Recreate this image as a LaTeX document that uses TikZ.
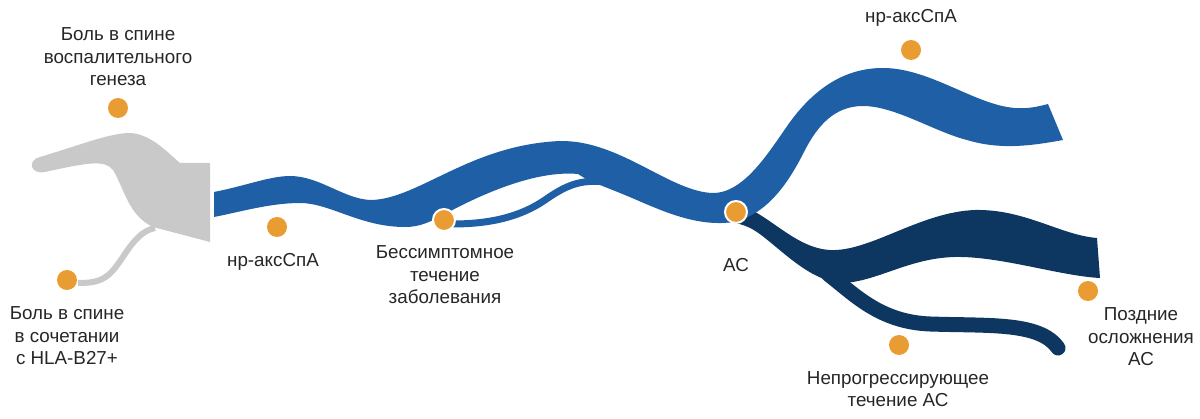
\documentclass[tikz,border=0pt]{standalone}
\usepackage{fontspec}
\setmainfont{Liberation Sans}
\definecolor{bandblue}{HTML}{1F5FA5}
\definecolor{banddark}{HTML}{0D3660}
\definecolor{dotorange}{HTML}{E89C31}
\definecolor{bandgray}{HTML}{C9C9C9}
\begin{document}
\begin{tikzpicture}[x=1pt,y=-1pt,
  dot/.style={circle,fill=dotorange,minimum size=20pt,inner sep=0pt},
  ringdot/.style={dot,draw=white,line width=2pt,minimum size=22pt},
  lbl/.style={align=center,font=\fontsize{18.8}{22.5}\selectfont,text=black!85}]
\useasboundingbox (0,0) rectangle (1200,419);
% grey start
\fill[bandgray] (210,163) -- (210,242) -- (153,227)
  .. controls (128,215) and (125,190) .. (113,170)
  .. controls (105,160) and (90,162) .. (45,172)
  .. controls (30,175) and (27,160) .. (40,157)
  .. controls (80,145) and (110,133) .. (130,133)
  .. controls (150,134) and (165,150) .. (180,163) -- cycle;
\draw[bandgray,line width=6pt] (155,228) .. controls (130,233) and (122,268) .. (104,278)
  .. controls (97,282) and (90,283) .. (78,283);
% dark band (AS)
\fill[banddark] (740,205) .. controls (770,215) and (795,248) .. (830,250)
  .. controls (870,252) and (920,212) .. (975,210)
  .. controls (1025,209) and (1060,235) .. (1097,238) -- (1100,278)
  .. controls (1060,276) and (1000,256) .. (955,257)
  .. controls (910,258) and (880,280) .. (845,283)
  .. controls (815,283) and (790,258) .. (765,238)
  .. controls (750,226) and (740,222) .. (720,222) -- cycle;
\draw[banddark,line width=15pt,line cap=round] (828,274) .. controls (855,295) and (880,322) .. (930,324)
  .. controls (990,326) and (1040,322) .. (1058,348);
% main blue band
\fill[bandblue] (214,192) .. controls (245,186) and (270,176) .. (290,176)
  .. controls (320,176) and (345,200) .. (372,200)
  .. controls (420,198) and (470,145) .. (560,141)
  .. controls (620,140) and (670,192) .. (713,193)
  .. controls (745,193) and (770,150) .. (790,122)
  .. controls (815,88) and (845,68) .. (883,68)
  .. controls (930,68) and (975,105) .. (1015,108)
  .. controls (1030,109) and (1040,106) .. (1048,104) -- (1063,140)
  .. controls (1030,146) and (1000,150) .. (967,140)
  .. controls (935,132) and (895,106) .. (863,106)
  .. controls (835,106) and (818,125) .. (805,150)
  .. controls (790,180) and (765,222) .. (722,223)
  .. controls (685,224) and (650,205) .. (620,193)
  .. controls (605,187) and (595,183) .. (586,179) -- (578,174)
  .. controls (535,170) and (480,195) .. (445,214)
  .. controls (430,222) and (420,227) .. (405,227)
  .. controls (360,227) and (330,203) .. (300,203)
  .. controls (270,203) and (240,212) .. (214,217) -- cycle;
\draw[bandblue,line width=7pt] (452,224) .. controls (490,224) and (520,217) .. (545,200)
  .. controls (565,186) and (580,179) .. (605,182);
% dots
\node[dot] (dInfl) at (118,108) {};
\node[dot] (dHla) at (67,280) {};
\node[dot] (dNr) at (277,227) {};
\node[ringdot] (dAsym) at (444,220) {};
\node[ringdot] (dAs) at (736,212) {};
\node[dot] (dNrTop) at (911,50) {};
\node[dot] (dLate) at (1088,291) {};
\node[dot] (dNonprog) at (899,345) {};
% labels
\node[lbl] (lInfl) at (118,57) {Боль в спине\\воспалительного\\генеза};
\node[lbl] (lHla) at (67,336) {Боль в спине\\в сочетании\\с HLA-B27+};
\node[lbl] (lNr) at (273,262) {нр-аксСпА};
\node[lbl] (lAsym) at (445,275) {Бессимптомное\\течение\\заболевания};
\node[lbl] (lAs) at (736,265) {АС};
\node[lbl] (lNrTop) at (911,18) {нр-аксСпА};
\node[lbl] (lLate) at (1141,337) {Поздние\\осложнения\\АС};
\node[lbl] (lNonprog) at (898,389) {Непрогрессирующее\\течение АС};
\end{tikzpicture}
\end{document}
